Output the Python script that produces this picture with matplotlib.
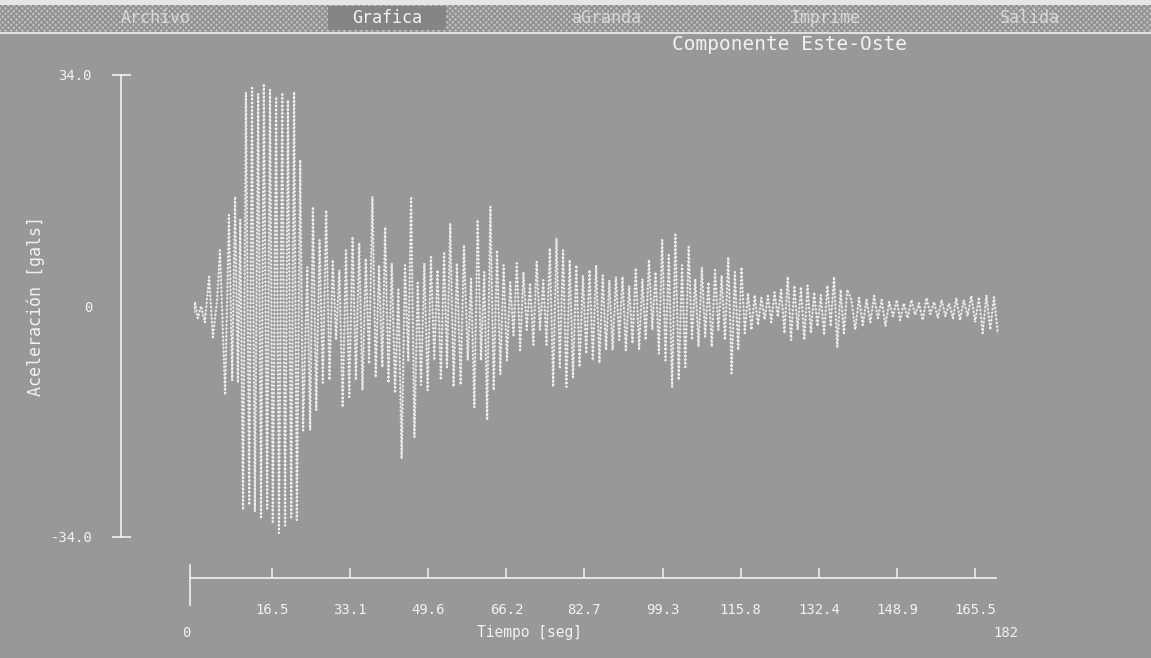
import matplotlib
matplotlib.use("Agg")
import matplotlib.pyplot as plt
from matplotlib.patches import Rectangle

# acceleration trace, peaks (t in seg, accel in gals)
# onset
t_onset = [0.0, 0.2, 0.8, 1.5, 2.3, 3.2, 4.0, 4.9, 5.5, 6.6, 7.4, 8.1, 8.7, 9.3, 9.8, 10.4]
a_onset = [-1.0, 0.6, -1.8, 0.0, -2.4, 4.3, -4.6, 0.9, 8.2, -13.1, 13.4, -10.9, 16.1, -11.3, 12.7, -30.0]
# strong motion
t_strong = [11.0, 11.7, 12.3, 12.9, 13.6, 14.2, 14.8, 15.5, 16.1, 16.7, 17.4, 18.0,
            18.7, 19.3, 19.9, 20.6, 21.2, 21.8, 22.5, 23.1]
a_strong = [31.5, -29.3, 32.1, -30.3, 31.2, -31.1, 32.7, -29.8, 31.8, -32.0, 30.8, -33.4,
            31.4, -32.3, 30.3, -31.1, 31.5, -31.5, 21.5, -18.3]
# coda, first part
t_coda1 = [24.0, 24.6, 25.2, 25.9, 26.6, 27.3, 28.0, 28.7, 29.4, 30.1, 30.8, 31.5,
           32.2, 32.9, 33.6, 34.3, 35.0, 35.7, 36.4, 37.1, 37.8, 38.5, 39.2, 39.9,
           40.5, 41.2, 41.9, 42.6, 43.3, 44.0, 44.7, 45.4, 46.0, 46.7, 47.4, 48.1,
           48.8, 49.5, 50.2, 50.9, 51.6, 52.3, 53.0, 53.6, 54.3]
a_coda1 = [5.7, -18.3, 14.6, -15.3, 9.7, -11.3, 14.1, -10.9, 6.8, -5.0, 5.3, -14.9,
           8.2, -13.4, 10.2, -10.9, 9.3, -12.4, 7.0, -8.5, 16.1, -10.5, 6.0, -9.0,
           11.6, -11.3, 6.3, -12.8, 2.4, -22.5, 6.0, -8.0, 16.1, -19.3, 3.4, -11.6,
           6.3, -12.4, 7.2, -8.0, 5.3, -10.9, 8.0, -9.0, 12.2]
# coda, second part
t_coda2 = [55.0, 55.7, 56.5, 57.2, 58.0, 58.7, 59.4, 60.1, 60.8, 61.5, 62.1, 62.8,
           63.5, 64.2, 64.9, 65.6, 66.3, 67.0, 67.7, 68.4, 69.1, 69.8, 70.5, 71.2,
           71.9, 72.6, 73.3, 74.0, 74.7, 75.4, 76.1, 76.8, 77.5, 78.2, 78.9, 79.6,
           80.3, 81.0, 81.7, 82.4]
a_coda2 = [-11.9, 6.3, -11.6, 9.0, -8.0, 4.0, -14.9, 12.7, -8.0, 5.0, -16.8, 14.6,
           -12.4, 8.2, -10.0, 6.0, -8.0, 3.5, -4.3, 6.3, -6.5, 5.0, -3.5, 3.4,
           -5.7, 6.5, -3.5, 3.8, -5.7, 8.5, -11.9, 10.0, -9.0, 8.2, -11.9, 6.8,
           -10.5, 6.0, -9.0, 4.5]
# coda, third part
t_coda3 = [83.1, 83.8, 84.5, 85.2, 85.9, 86.6, 87.3, 88.0, 88.7, 89.4, 90.1, 90.8,
           91.5, 92.2, 92.9, 93.6, 94.3, 95.0, 95.7, 96.4, 97.1, 97.8, 98.5, 99.2,
           99.9, 100.6, 101.3, 102.0, 102.7, 103.4, 104.1, 104.8, 105.5, 106.2, 106.9, 107.6,
           108.3, 109.0, 109.7, 110.4, 111.1, 111.8, 112.5, 113.2, 113.9, 114.6, 115.3, 116.0,
           116.7, 117.4, 118.1, 118.8, 119.5, 120.2, 120.9, 121.6, 122.3, 123.0, 123.7, 124.4,
           125.1, 125.8, 126.5, 127.2, 127.9, 128.6, 129.3, 130.0, 130.7, 131.4, 132.1, 132.8,
           133.5, 134.2, 134.9, 135.6, 136.3, 137.0, 137.7, 138.4]
a_coda3 = [-7.0, 5.3, -8.0, 6.0, -8.4, 4.5, -6.5, 3.8, -6.5, 4.3, -5.0, 4.3,
           -6.5, 3.0, -5.5, 5.6, -6.5, 4.0, -5.0, 6.8, -3.5, 5.0, -7.0, 9.7,
           -8.0, 7.5, -11.9, 10.5, -10.9, 6.0, -9.0, 8.7, -5.0, 4.0, -6.0, 5.7,
           -4.5, 3.5, -6.0, 5.3, -3.5, 4.5, -5.0, 7.2, -9.9, 5.0, -6.5, 5.7,
           -4.0, 1.9, -3.5, 1.6, -2.8, 1.2, -2.0, 1.5, -2.4, 2.0, -1.6, 2.4,
           -4.0, 4.3, -5.0, 3.0, -3.5, 2.8, -5.0, 3.0, -4.0, 2.0, -3.0, 1.6,
           -4.3, 3.0, -3.0, 4.3, -6.0, 2.4, -4.0, 2.4]
# tail
t_tail = [139.3, 140.1, 140.9, 141.7, 142.5, 143.3, 144.1, 144.9, 145.7, 146.5,
          147.3, 148.1, 148.9, 149.6, 150.4, 151.2, 152.0, 152.8, 153.6, 154.4,
          155.2, 156.0, 156.8, 157.6, 158.4, 159.2, 160.0, 160.8, 161.5, 162.3,
          163.1, 163.9, 164.7, 165.5, 166.3, 167.1, 167.9, 168.7, 169.5, 170.3]
a_tail = [0.9, -3.5, 1.2, -2.8, 0.9, -2.4, 1.5, -1.8, 0.9, -2.9,
          0.6, -1.5, 0.9, -2.1, 0.4, -1.8, 0.9, -1.3, 0.4, -2.1,
          1.2, -1.2, 0.6, -1.8, 0.9, -1.5, 0.4, -1.8, 1.2, -2.1,
          0.9, -1.5, 1.5, -2.4, 1.3, -4.0, 1.6, -3.5, 1.3, -4.0]

time = t_onset + t_strong + t_coda1 + t_coda2 + t_coda3 + t_tail
accel = a_onset + a_strong + a_coda1 + a_coda2 + a_coda3 + a_tail

t_max = 182
a_max = 34.0
x_ticks = [16.5, 33.1, 49.6, 66.2, 82.7, 99.3, 115.8, 132.4, 148.9, 165.5]
x_tick_labels = ["16.5", "33.1", "49.6", "66.2", "82.7", "99.3", "115.8",
                 "132.4", "148.9", "165.5"]
y_ticks = [-a_max, 0, a_max]
y_tick_labels = ["-34.0", "0", "34.0"]

menu_items = ["Archivo", "Grafica", "aGranda", "Imprime", "Salida"]
menu_x = [156, 387, 607, 825, 1030]
menu_active = "Grafica"

title = "Componente Este-Oste"
xlabel = "Tiempo [seg]"
ylabel = "Aceleración [gals]"

BG = "#989898"
FG = "#f2f2f2"
FONT = "DejaVu Sans Mono"
W, H = 1151, 658
PT = 0.72  # points per pixel at dpi 100

fig = plt.figure(figsize=(W / 100, H / 100), dpi=100, facecolor=BG)

# screen overlay in pixel coordinates (menu bar, labels)
scr = fig.add_axes([0, 0, 1, 1], zorder=0)
scr.set_xlim(0, W)
scr.set_ylim(H, 0)
scr.axis("off")

scr.add_patch(Rectangle((0, 0), W, 5, facecolor="#e6e6e6", edgecolor="none"))
scr.add_patch(Rectangle((0, 5), W, 27, facecolor="#bcbcbc", edgecolor="#8e8e8e",
                        hatch="xxxxxx", linewidth=0))
scr.plot([0, W], [33, 33], color="#e0e0e0", lw=1.5)
for name, mx in zip(menu_items, menu_x):
    if name == menu_active:
        scr.add_patch(Rectangle((mx - 59, 6), 118, 24, facecolor="#858585",
                                edgecolor="none"))
        col = "#f4f4f4"
    else:
        col = "#d8d8d8"
    scr.text(mx, 18, name, color=col, fontsize=12, family=FONT,
             ha="center", va="center")

scr.text(790, 45, title, color=FG, fontsize=14, family=FONT,
         ha="center", va="center")
scr.text(36, 306, ylabel, color=FG, fontsize=12, family=FONT,
         rotation=90, ha="center", va="center")
scr.text(530, 633, xlabel, color=FG, fontsize=10.5, family=FONT,
         ha="center", va="center")
scr.text(186, 633, "0", color=FG, fontsize=10, family=FONT,
         ha="center", va="center")
scr.text(1006, 633, str(t_max), color=FG, fontsize=10, family=FONT,
         ha="center", va="center")
scr.plot([190, 190], [565, 605], color=FG, lw=1.2)

# plot axes: t=0 at x=194, t=182 at x=1053; +-34 gals at y=75 / 537
ax = fig.add_axes([194 / W, (H - 537) / H, 859 / W, 462 / H], zorder=1)
ax.set_facecolor("none")
ax.set_xlim(0, t_max)
ax.set_ylim(-a_max, a_max)

ax.plot(time, accel, color="#c8c8c8", lw=0.6, zorder=2)
ax.plot(time, accel, color=FG, lw=1.6, ls=(0, (0.7, 1.0)), zorder=3)

for s in ["top", "right"]:
    ax.spines[s].set_visible(False)
ax.spines["left"].set_position(("outward", 73 * PT))
ax.spines["left"].set_bounds(-a_max, a_max)
ax.spines["bottom"].set_position(("outward", 41 * PT))
ax.spines["bottom"].set_bounds(-0.85, time[-1] - 0.4)
for s in ["left", "bottom"]:
    ax.spines[s].set_color(FG)
    ax.spines[s].set_linewidth(1.2)

ax.set_xticks(x_ticks)
ax.set_xticklabels(x_tick_labels, family=FONT, fontsize=10, color=FG)
ax.tick_params(axis="x", direction="in", length=10 * PT, width=1.1,
               color=FG, pad=18)
ax.set_yticks(y_ticks)
ax.set_yticklabels(y_tick_labels, family=FONT, fontsize=10, color=FG)
ax.tick_params(axis="y", direction="inout", length=19 * PT, width=1.2,
               color=FG, pad=14)
ax.yaxis.get_major_ticks()[1].tick1line.set_visible(False)

fig.savefig("out.png", dpi=100, facecolor=BG)
